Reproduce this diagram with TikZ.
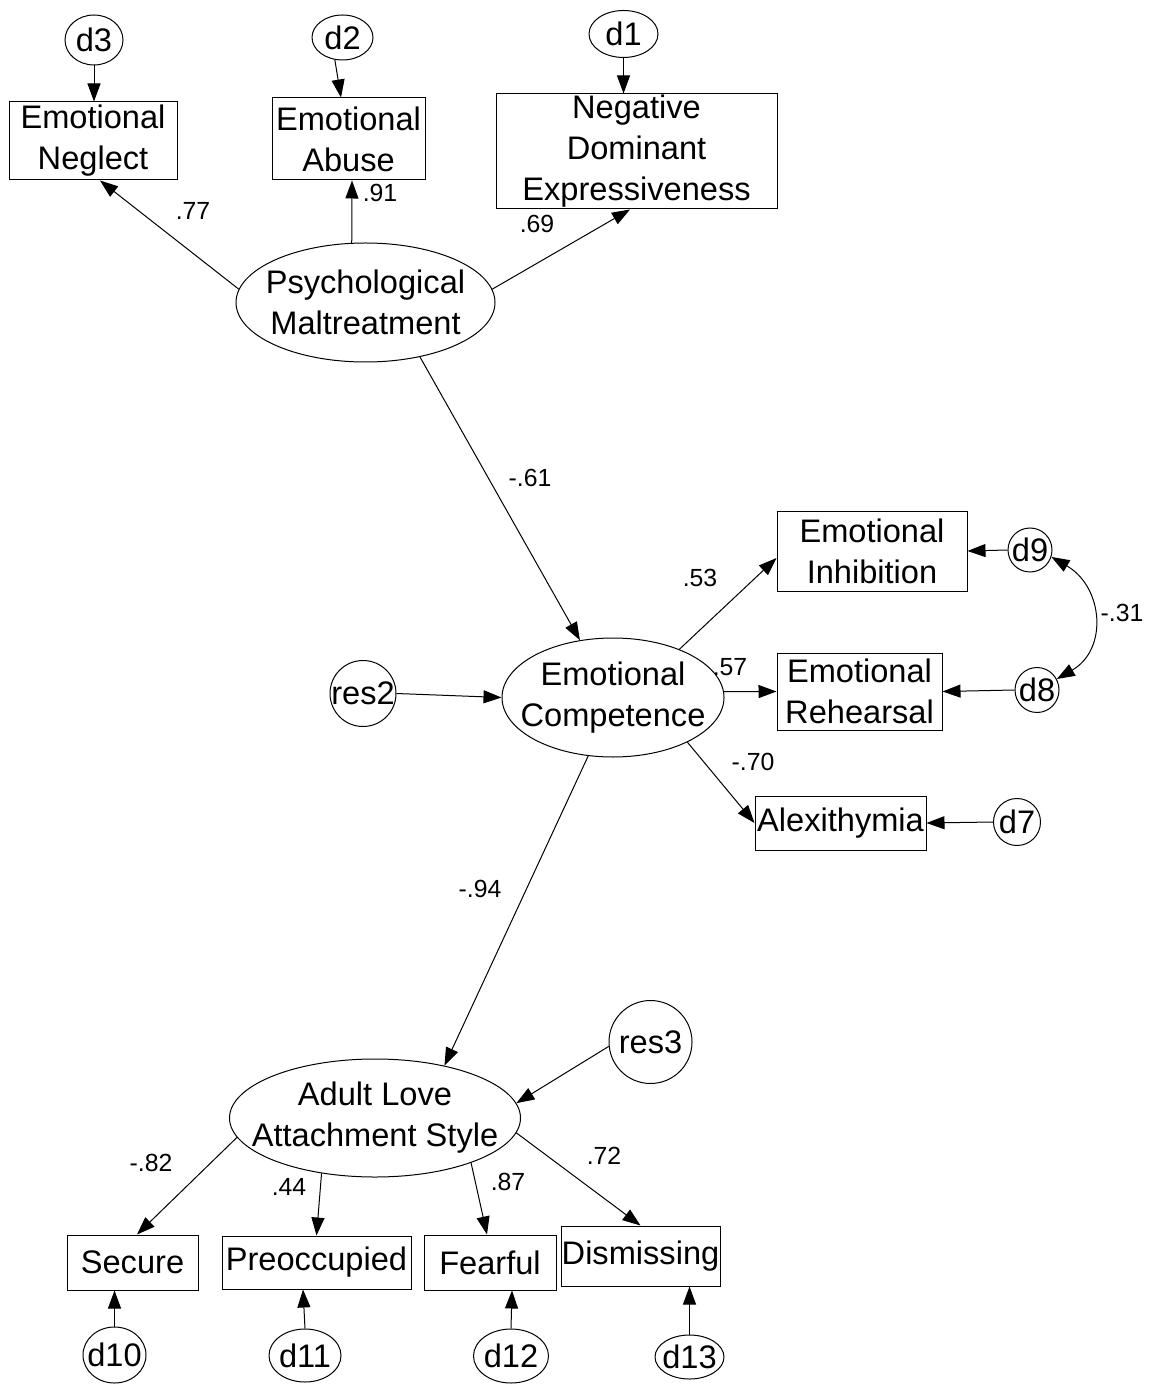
\documentclass[tikz,border=0pt]{standalone}
\usepackage{fontspec}
\setmainfont{Liberation Sans}
\usetikzlibrary{shapes,arrows.meta}

\begin{document}
\begin{tikzpicture}[x=0.5pt,y=0.5pt,line width=0.5pt,
	font=\fontsize{16.3}{20.5}\selectfont,
	>={Triangle[length=9pt,width=6.5pt]},
	obs/.style={draw,rectangle,inner sep=0pt,align=center},
	lat/.style={draw,ellipse,inner sep=0pt},
	err/.style={draw,ellipse,inner sep=0pt},
	coef/.style={font=\fontsize{12.4}{14}\selectfont,inner sep=0pt}]
	\useasboundingbox (0,0) rectangle (1154,-1384);
	% psychological maltreatment and its indicators
	\node[lat,minimum width=129.5pt,minimum height=59.5pt,label={[align=center]center:{Psychological\\Maltreatment}}] (pm) at (365.5,-302.5) {};
	\node[obs,minimum width=84pt,minimum height=39pt] (neg) at (93,-141) {Emotional\\Neglect};
	\node[obs,minimum width=76.5pt,minimum height=41pt] (abu) at (348.5,-139) {Emotional\\Abuse};
	\node[obs,minimum width=140.5pt,minimum height=57.5pt] (nde) at (636.5,-151.5) {Negative\\Dominant\\Expressiveness};
	\node[err,minimum width=29pt,minimum height=25pt,label=center:d3] (d3) at (94,-40) {};
	\node[err,minimum width=30.5pt,minimum height=22.5pt,label=center:d2] (d2) at (342.5,-37.5) {};
	\node[err,minimum width=34.5pt,minimum height=23.5pt,label=center:d1] (d1) at (623.5,-34) {};
	% emotional competence and its indicators
	\node[lat,minimum width=111pt,minimum height=59.5pt,label={[align=center]center:{Emotional\\Competence}}] (ec) at (613,-697.5) {};
	\node[err,minimum width=33pt,minimum height=33pt,label=center:res2] (res2) at (363,-693.5) {};
	\node[obs,minimum width=95pt,minimum height=40pt] (inh) at (872,-551) {Emotional\\Inhibition};
	\node[obs,minimum width=82.5pt,minimum height=38.5pt] (reh) at (859.5,-691.5) {Emotional\\Rehearsal};
	\node[obs,minimum width=85.5pt,minimum height=27pt] (alx) at (840.5,-823) {Alexithymia};
	\node[err,minimum width=22pt,minimum height=22pt,label=center:d9] (d9) at (1030,-550) {};
	\node[err,minimum width=22pt,minimum height=22.5pt,label=center:d8] (d8) at (1037,-690) {};
	\node[err,minimum width=23.5pt,minimum height=23.5pt,label=center:d7] (d7) at (1017,-822) {};
	% adult love attachment style and its indicators
	\node[lat,minimum width=145.5pt,minimum height=59pt,label={[align=center]center:{Adult Love\\Attachment Style}}] (ala) at (375,-1118) {};
	\node[err,minimum width=41.5pt,minimum height=41.5pt,label=center:res3] (res3) at (650.5,-1042) {};
	\node[obs,minimum width=65.5pt,minimum height=27.5pt] (sec) at (132.5,-1262.5) {Secure};
	\node[obs,minimum width=94.5pt,minimum height=26.5pt] (pre) at (316.5,-1262.5) {Preoccupied};
	\node[obs,minimum width=66pt,minimum height=27.5pt] (fea) at (490,-1262.5) {Fearful};
	\node[obs,minimum width=79.5pt,minimum height=30pt] (dis) at (640.5,-1256) {Dismissing};
	\node[err,minimum width=31.5pt,minimum height=28pt,label=center:d10] (d10) at (114.5,-1355) {};
	\node[err,minimum width=36pt,minimum height=26.5pt,label=center:d11] (d11) at (305,-1355.5) {};
	\node[err,minimum width=37.5pt,minimum height=27pt,label=center:d12] (d12) at (511,-1356) {};
	\node[err,minimum width=34.5pt,minimum height=22pt,label=center:d13] (d13) at (689.5,-1357) {};
	%% the paths
	\draw[->] (d3.south) -- (d3.south |- neg.north);
	\draw[->] (d2.251) -- ([xshift=-3.75pt]abu.north);
	\draw[->] (d1.south) -- (d1.south |- nde.north);
	\draw[->] (pm.174) -- ([xshift=3.5pt]neg.south);
	\draw[->] (pm.103) -- ([xshift=1.75pt]abu.south);
	\draw[->] (pm.6) -- ([xshift=-3.25pt]nde.south);
	\draw[->] (pm.-45) -- (ec.120);
	\draw[->] (res2.east) -- (ec.west);
	\draw[->] (ec.36) -- ([yshift=-3.5pt]inh.west);
	\draw[->] (ec.3) -- (reh.west);
	\draw[->] (ec.-31) -- (alx.west);
	\draw[->] (d9.west) -- (inh.east);
	\draw[->] (d8.west) -- (reh.east);
	\draw[->] (d7.west) -- (alx.east);
	\draw[<->] (d9.-18) to[out=-30,in=30,looseness=1.25] (d8.29);
	\draw[->] (ec.247) -- (ala.37);
	\draw[->] (res3.186) -- (ala.6);
	\draw[->] (ala.188) -- ([xshift=2.25pt]sec.north);
	\draw[->] (ala.226) -- (pre.north);
	\draw[->] (ala.-25) -- ([xshift=-1.5pt]fea.north);
	\draw[->] (ala.-6) -- (dis.north);
	\draw[->] (d10.north) -- (d10.north |- sec.south);
	\draw[->] (d11.north) -- ([xshift=-6.75pt]pre.south);
	\draw[->] (d12.north) -- ([xshift=11pt]fea.south);
	\draw[->] (d13.north) -- (d13.north |- dis.south);
	%% the estimates
	\node[coef] (c77) at (193,-211) {.77};
	\node[coef] (c91) at (380,-193) {.91};
	\node[coef] (c69) at (537,-224) {.69};
	\node[coef] (c61) at (530,-478) {-.61};
	\node[coef] (c53) at (700,-578) {.53};
	\node[coef] (c57) at (730,-667) {.57};
	\node[coef] (c70) at (753,-762) {-.70};
	\node[coef] (c31) at (1122,-613) {-.31};
	\node[coef] (c94) at (480,-889) {-.94};
	\node[coef] (c82) at (151,-1163) {-.82};
	\node[coef] (c44) at (289,-1187) {.44};
	\node[coef] (c87) at (508,-1182) {.87};
	\node[coef] (c72) at (604,-1156) {.72};
\end{tikzpicture}
\end{document}
